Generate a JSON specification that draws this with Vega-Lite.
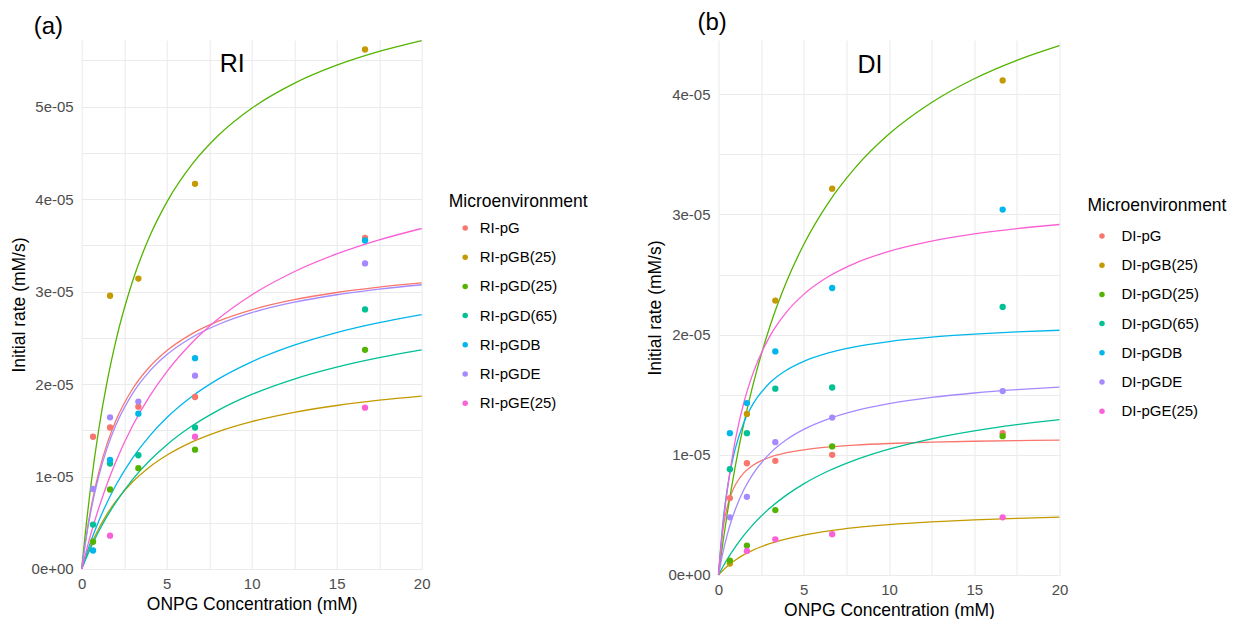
{
  "$schema": "https://vega.github.io/schema/vega-lite/v6.json",
  "background": "#ffffff",
  "padding": {"left": 9.7, "top": 11, "right": 0, "bottom": 0},
  "spacing": 57.8,
  "config": {
    "font": "Liberation Sans",
    "view": {"stroke": null},
    "axis": {
      "domain": false,
      "ticks": false,
      "grid": true,
      "gridColor": "#EBEBEB",
      "gridWidth": 1.1,
      "labelColor": "#4D4D4D",
      "labelFontSize": 15,
      "labelFlush": false,
      "labelOverlap": false,
      "titleFontSize": 17.5,
      "titleFontWeight": "normal",
      "titleColor": "#000000"
    },
    "axisX": {"labelPadding": 7.5, "titlePadding": 4},
    "axisY": {"labelPadding": 8.5, "titlePadding": 3},
    "legend": {
      "orient": "none",
      "padding": 0,
      "titleFontSize": 17.5,
      "titleFontWeight": "normal",
      "titleColor": "#000000",
      "labelFontSize": 15,
      "labelColor": "#000000",
      "symbolType": "circle",
      "symbolSize": 30,
      "rowPadding": 13.2,
      "titlePadding": 10
    },
    "title": {"fontSize": 24, "fontWeight": "normal", "anchor": "start", "color": "#000000", "frame": "group"}
  },
  "datasets": {
    "rl_points": [
      {"series": "RI-pG", "x": 0.667, "v": 1.43e-5},
      {"series": "RI-pG", "x": 1.667, "v": 1.53e-5},
      {"series": "RI-pG", "x": 3.333, "v": 1.755e-5},
      {"series": "RI-pG", "x": 6.667, "v": 1.86e-5},
      {"series": "RI-pG", "x": 16.667, "v": 3.58e-5},
      {"series": "RI-pGB(25)", "x": 1.667, "v": 2.955e-5},
      {"series": "RI-pGB(25)", "x": 3.333, "v": 3.14e-5},
      {"series": "RI-pGB(25)", "x": 6.667, "v": 4.165e-5},
      {"series": "RI-pGB(25)", "x": 16.667, "v": 5.617e-5},
      {"series": "RI-pGD(25)", "x": 0.667, "v": 0.295e-5},
      {"series": "RI-pGD(25)", "x": 1.667, "v": 0.86e-5},
      {"series": "RI-pGD(25)", "x": 3.333, "v": 1.09e-5},
      {"series": "RI-pGD(25)", "x": 6.667, "v": 1.29e-5},
      {"series": "RI-pGD(25)", "x": 16.667, "v": 2.37e-5},
      {"series": "RI-pGD(65)", "x": 0.667, "v": 0.48e-5},
      {"series": "RI-pGD(65)", "x": 1.667, "v": 1.14e-5},
      {"series": "RI-pGD(65)", "x": 3.333, "v": 1.23e-5},
      {"series": "RI-pGD(65)", "x": 6.667, "v": 1.53e-5},
      {"series": "RI-pGD(65)", "x": 16.667, "v": 2.807e-5},
      {"series": "RI-pGDB", "x": 0.667, "v": 0.2e-5},
      {"series": "RI-pGDB", "x": 1.667, "v": 1.18e-5},
      {"series": "RI-pGDB", "x": 3.333, "v": 1.68e-5},
      {"series": "RI-pGDB", "x": 6.667, "v": 2.28e-5},
      {"series": "RI-pGDB", "x": 16.667, "v": 3.552e-5},
      {"series": "RI-pGDE", "x": 0.667, "v": 0.865e-5},
      {"series": "RI-pGDE", "x": 1.667, "v": 1.64e-5},
      {"series": "RI-pGDE", "x": 3.333, "v": 1.81e-5},
      {"series": "RI-pGDE", "x": 6.667, "v": 2.09e-5},
      {"series": "RI-pGDE", "x": 16.667, "v": 3.304e-5},
      {"series": "RI-pGE(25)", "x": 1.667, "v": 0.36e-5},
      {"series": "RI-pGE(25)", "x": 6.667, "v": 1.43e-5},
      {"series": "RI-pGE(25)", "x": 16.667, "v": 1.744e-5}
    ],
    "rl_fits": [
      {"curve": "RI-pG", "x": 0, "v": 0},
      {"curve": "RI-pG", "x": 0.25, "v": 0.3369e-5},
      {"curve": "RI-pG", "x": 0.5, "v": 0.6139e-5},
      {"curve": "RI-pG", "x": 0.75, "v": 0.8456e-5},
      {"curve": "RI-pG", "x": 1, "v": 1.0423e-5},
      {"curve": "RI-pG", "x": 1.5, "v": 1.3583e-5},
      {"curve": "RI-pG", "x": 2, "v": 1.6009e-5},
      {"curve": "RI-pG", "x": 3, "v": 1.9492e-5},
      {"curve": "RI-pG", "x": 4, "v": 2.187e-5},
      {"curve": "RI-pG", "x": 5, "v": 2.3598e-5},
      {"curve": "RI-pG", "x": 6.5, "v": 2.5454e-5},
      {"curve": "RI-pG", "x": 8, "v": 2.677e-5},
      {"curve": "RI-pG", "x": 10, "v": 2.8026e-5},
      {"curve": "RI-pG", "x": 12.5, "v": 2.9119e-5},
      {"curve": "RI-pG", "x": 15, "v": 2.9896e-5},
      {"curve": "RI-pG", "x": 17.5, "v": 3.0477e-5},
      {"curve": "RI-pG", "x": 20, "v": 3.0928e-5},
      {"curve": "RI-pGB(25)", "x": 0, "v": 0},
      {"curve": "RI-pGB(25)", "x": 0.25, "v": 0.1271e-5},
      {"curve": "RI-pGB(25)", "x": 0.5, "v": 0.2407e-5},
      {"curve": "RI-pGB(25)", "x": 0.75, "v": 0.3429e-5},
      {"curve": "RI-pGB(25)", "x": 1, "v": 0.4352e-5},
      {"curve": "RI-pGB(25)", "x": 1.5, "v": 0.5955e-5},
      {"curve": "RI-pGB(25)", "x": 2, "v": 0.73e-5},
      {"curve": "RI-pGB(25)", "x": 3, "v": 0.9429e-5},
      {"curve": "RI-pGB(25)", "x": 4, "v": 1.1039e-5},
      {"curve": "RI-pGB(25)", "x": 5, "v": 1.2299e-5},
      {"curve": "RI-pGB(25)", "x": 6.5, "v": 1.3747e-5},
      {"curve": "RI-pGB(25)", "x": 8, "v": 1.4839e-5},
      {"curve": "RI-pGB(25)", "x": 10, "v": 1.5937e-5},
      {"curve": "RI-pGB(25)", "x": 12.5, "v": 1.6939e-5},
      {"curve": "RI-pGB(25)", "x": 15, "v": 1.768e-5},
      {"curve": "RI-pGB(25)", "x": 17.5, "v": 1.825e-5},
      {"curve": "RI-pGB(25)", "x": 20, "v": 1.8702e-5},
      {"curve": "RI-pGD(25)", "x": 0, "v": 0},
      {"curve": "RI-pGD(25)", "x": 0.25, "v": 0.4527e-5},
      {"curve": "RI-pGD(25)", "x": 0.5, "v": 0.8481e-5},
      {"curve": "RI-pGD(25)", "x": 0.75, "v": 1.1964e-5},
      {"curve": "RI-pGD(25)", "x": 1, "v": 1.5056e-5},
      {"curve": "RI-pGD(25)", "x": 1.5, "v": 2.0303e-5},
      {"curve": "RI-pGD(25)", "x": 2, "v": 2.4587e-5},
      {"curve": "RI-pGD(25)", "x": 3, "v": 3.1163e-5},
      {"curve": "RI-pGD(25)", "x": 4, "v": 3.5973e-5},
      {"curve": "RI-pGD(25)", "x": 5, "v": 3.9645e-5},
      {"curve": "RI-pGD(25)", "x": 6.5, "v": 4.3769e-5},
      {"curve": "RI-pGD(25)", "x": 8, "v": 4.6812e-5},
      {"curve": "RI-pGD(25)", "x": 10, "v": 4.9814e-5},
      {"curve": "RI-pGD(25)", "x": 12.5, "v": 5.2508e-5},
      {"curve": "RI-pGD(25)", "x": 15, "v": 5.4472e-5},
      {"curve": "RI-pGD(25)", "x": 17.5, "v": 5.5967e-5},
      {"curve": "RI-pGD(25)", "x": 20, "v": 5.7143e-5},
      {"curve": "RI-pGD(65)", "x": 0, "v": 0},
      {"curve": "RI-pGD(65)", "x": 0.25, "v": 0.112e-5},
      {"curve": "RI-pGD(65)", "x": 0.5, "v": 0.2163e-5},
      {"curve": "RI-pGD(65)", "x": 0.75, "v": 0.3138e-5},
      {"curve": "RI-pGD(65)", "x": 1, "v": 0.4051e-5},
      {"curve": "RI-pGD(65)", "x": 1.5, "v": 0.5713e-5},
      {"curve": "RI-pGD(65)", "x": 2, "v": 0.7186e-5},
      {"curve": "RI-pGD(65)", "x": 3, "v": 0.9685e-5},
      {"curve": "RI-pGD(65)", "x": 4, "v": 1.1724e-5},
      {"curve": "RI-pGD(65)", "x": 5, "v": 1.3418e-5},
      {"curve": "RI-pGD(65)", "x": 6.5, "v": 1.5483e-5},
      {"curve": "RI-pGD(65)", "x": 8, "v": 1.7131e-5},
      {"curve": "RI-pGD(65)", "x": 10, "v": 1.8872e-5},
      {"curve": "RI-pGD(65)", "x": 12.5, "v": 2.0543e-5},
      {"curve": "RI-pGD(65)", "x": 15, "v": 2.1831e-5},
      {"curve": "RI-pGD(65)", "x": 17.5, "v": 2.2854e-5},
      {"curve": "RI-pGD(65)", "x": 20, "v": 2.3687e-5},
      {"curve": "RI-pGDB", "x": 0, "v": 0},
      {"curve": "RI-pGDB", "x": 0.25, "v": 0.145e-5},
      {"curve": "RI-pGDB", "x": 0.5, "v": 0.2786e-5},
      {"curve": "RI-pGDB", "x": 0.75, "v": 0.4021e-5},
      {"curve": "RI-pGDB", "x": 1, "v": 0.5167e-5},
      {"curve": "RI-pGDB", "x": 1.5, "v": 0.7226e-5},
      {"curve": "RI-pGDB", "x": 2, "v": 0.9024e-5},
      {"curve": "RI-pGDB", "x": 3, "v": 1.2013e-5},
      {"curve": "RI-pGDB", "x": 4, "v": 1.4398e-5},
      {"curve": "RI-pGDB", "x": 5, "v": 1.6345e-5},
      {"curve": "RI-pGDB", "x": 6.5, "v": 1.8676e-5},
      {"curve": "RI-pGDB", "x": 8, "v": 2.0504e-5},
      {"curve": "RI-pGDB", "x": 10, "v": 2.2404e-5},
      {"curve": "RI-pGDB", "x": 12.5, "v": 2.4198e-5},
      {"curve": "RI-pGDB", "x": 15, "v": 2.5563e-5},
      {"curve": "RI-pGDB", "x": 17.5, "v": 2.6635e-5},
      {"curve": "RI-pGDB", "x": 20, "v": 2.7501e-5},
      {"curve": "RI-pGDE", "x": 0, "v": 0},
      {"curve": "RI-pGDE", "x": 0.25, "v": 0.3194e-5},
      {"curve": "RI-pGDE", "x": 0.5, "v": 0.5847e-5},
      {"curve": "RI-pGDE", "x": 0.75, "v": 0.8086e-5},
      {"curve": "RI-pGDE", "x": 1, "v": 1.0e-5},
      {"curve": "RI-pGDE", "x": 1.5, "v": 1.3101e-5},
      {"curve": "RI-pGDE", "x": 2, "v": 1.5506e-5},
      {"curve": "RI-pGDE", "x": 3, "v": 1.8991e-5},
      {"curve": "RI-pGDE", "x": 4, "v": 2.1395e-5},
      {"curve": "RI-pGDE", "x": 5, "v": 2.3154e-5},
      {"curve": "RI-pGDE", "x": 6.5, "v": 2.5056e-5},
      {"curve": "RI-pGDE", "x": 8, "v": 2.6411e-5},
      {"curve": "RI-pGDE", "x": 10, "v": 2.7711e-5},
      {"curve": "RI-pGDE", "x": 12.5, "v": 2.8846e-5},
      {"curve": "RI-pGDE", "x": 15, "v": 2.9656e-5},
      {"curve": "RI-pGDE", "x": 17.5, "v": 3.0263e-5},
      {"curve": "RI-pGDE", "x": 20, "v": 3.0735e-5},
      {"curve": "RI-pGE(25)", "x": 0, "v": 0},
      {"curve": "RI-pGE(25)", "x": 0.25, "v": 0.1827e-5},
      {"curve": "RI-pGE(25)", "x": 0.5, "v": 0.3522e-5},
      {"curve": "RI-pGE(25)", "x": 0.75, "v": 0.5098e-5},
      {"curve": "RI-pGE(25)", "x": 1, "v": 0.6568e-5},
      {"curve": "RI-pGE(25)", "x": 1.5, "v": 0.9228e-5},
      {"curve": "RI-pGE(25)", "x": 2, "v": 1.1571e-5},
      {"curve": "RI-pGE(25)", "x": 3, "v": 1.5511e-5},
      {"curve": "RI-pGE(25)", "x": 4, "v": 1.8692e-5},
      {"curve": "RI-pGE(25)", "x": 5, "v": 2.1316e-5},
      {"curve": "RI-pGE(25)", "x": 6.5, "v": 2.4488e-5},
      {"curve": "RI-pGE(25)", "x": 8, "v": 2.7e-5},
      {"curve": "RI-pGE(25)", "x": 10, "v": 2.9634e-5},
      {"curve": "RI-pGE(25)", "x": 12.5, "v": 3.2143e-5},
      {"curve": "RI-pGE(25)", "x": 15, "v": 3.4065e-5},
      {"curve": "RI-pGE(25)", "x": 17.5, "v": 3.5586e-5},
      {"curve": "RI-pGE(25)", "x": 20, "v": 3.6818e-5}
    ],
    "dl_points": [
      {"series": "DI-pG", "x": 0.667, "v": 0.64e-5},
      {"series": "DI-pG", "x": 1.667, "v": 0.93e-5},
      {"series": "DI-pG", "x": 3.333, "v": 0.95e-5},
      {"series": "DI-pG", "x": 6.667, "v": 1.0e-5},
      {"series": "DI-pG", "x": 16.667, "v": 1.18e-5},
      {"series": "DI-pGB(25)", "x": 0.667, "v": 0.095e-5},
      {"series": "DI-pGB(25)", "x": 1.667, "v": 1.34e-5},
      {"series": "DI-pGB(25)", "x": 3.333, "v": 2.283e-5},
      {"series": "DI-pGB(25)", "x": 6.667, "v": 3.214e-5},
      {"series": "DI-pGB(25)", "x": 16.667, "v": 4.115e-5},
      {"series": "DI-pGD(25)", "x": 0.667, "v": 0.12e-5},
      {"series": "DI-pGD(25)", "x": 1.667, "v": 0.245e-5},
      {"series": "DI-pGD(25)", "x": 3.333, "v": 0.54e-5},
      {"series": "DI-pGD(25)", "x": 6.667, "v": 1.07e-5},
      {"series": "DI-pGD(25)", "x": 16.667, "v": 1.155e-5},
      {"series": "DI-pGD(65)", "x": 0.667, "v": 0.88e-5},
      {"series": "DI-pGD(65)", "x": 1.667, "v": 1.18e-5},
      {"series": "DI-pGD(65)", "x": 3.333, "v": 1.55e-5},
      {"series": "DI-pGD(65)", "x": 6.667, "v": 1.56e-5},
      {"series": "DI-pGD(65)", "x": 16.667, "v": 2.23e-5},
      {"series": "DI-pGDB", "x": 0.667, "v": 1.18e-5},
      {"series": "DI-pGDB", "x": 1.667, "v": 1.43e-5},
      {"series": "DI-pGDB", "x": 3.333, "v": 1.86e-5},
      {"series": "DI-pGDB", "x": 6.667, "v": 2.388e-5},
      {"series": "DI-pGDB", "x": 16.667, "v": 3.04e-5},
      {"series": "DI-pGDE", "x": 0.667, "v": 0.48e-5},
      {"series": "DI-pGDE", "x": 1.667, "v": 0.65e-5},
      {"series": "DI-pGDE", "x": 3.333, "v": 1.105e-5},
      {"series": "DI-pGDE", "x": 6.667, "v": 1.31e-5},
      {"series": "DI-pGDE", "x": 16.667, "v": 1.53e-5},
      {"series": "DI-pGE(25)", "x": 1.667, "v": 0.2e-5},
      {"series": "DI-pGE(25)", "x": 3.333, "v": 0.297e-5},
      {"series": "DI-pGE(25)", "x": 6.667, "v": 0.34e-5},
      {"series": "DI-pGE(25)", "x": 16.667, "v": 0.48e-5}
    ],
    "dl_fits": [
      {"curve": "DI-pG", "x": 0, "v": 0},
      {"curve": "DI-pG", "x": 0.25, "v": 0.3692e-5},
      {"curve": "DI-pG", "x": 0.5, "v": 0.5592e-5},
      {"curve": "DI-pG", "x": 0.75, "v": 0.675e-5},
      {"curve": "DI-pG", "x": 1, "v": 0.7529e-5},
      {"curve": "DI-pG", "x": 1.5, "v": 0.8512e-5},
      {"curve": "DI-pG", "x": 2, "v": 0.9107e-5},
      {"curve": "DI-pG", "x": 3, "v": 0.979e-5},
      {"curve": "DI-pG", "x": 4, "v": 1.0172e-5},
      {"curve": "DI-pG", "x": 5, "v": 1.0416e-5},
      {"curve": "DI-pG", "x": 6.5, "v": 1.0652e-5},
      {"curve": "DI-pG", "x": 8, "v": 1.0804e-5},
      {"curve": "DI-pG", "x": 10, "v": 1.094e-5},
      {"curve": "DI-pG", "x": 12.5, "v": 1.1051e-5},
      {"curve": "DI-pG", "x": 15, "v": 1.1127e-5},
      {"curve": "DI-pG", "x": 17.5, "v": 1.1181e-5},
      {"curve": "DI-pG", "x": 20, "v": 1.1223e-5},
      {"curve": "DI-pGB(25)", "x": 0, "v": 0},
      {"curve": "DI-pGB(25)", "x": 0.25, "v": 0.0375e-5},
      {"curve": "DI-pGB(25)", "x": 0.5, "v": 0.0703e-5},
      {"curve": "DI-pGB(25)", "x": 0.75, "v": 0.0994e-5},
      {"curve": "DI-pGB(25)", "x": 1, "v": 0.1252e-5},
      {"curve": "DI-pGB(25)", "x": 1.5, "v": 0.1691e-5},
      {"curve": "DI-pGB(25)", "x": 2, "v": 0.2051e-5},
      {"curve": "DI-pGB(25)", "x": 3, "v": 0.2605e-5},
      {"curve": "DI-pGB(25)", "x": 4, "v": 0.3012e-5},
      {"curve": "DI-pGB(25)", "x": 5, "v": 0.3324e-5},
      {"curve": "DI-pGB(25)", "x": 6.5, "v": 0.3674e-5},
      {"curve": "DI-pGB(25)", "x": 8, "v": 0.3934e-5},
      {"curve": "DI-pGB(25)", "x": 10, "v": 0.4191e-5},
      {"curve": "DI-pGB(25)", "x": 12.5, "v": 0.4421e-5},
      {"curve": "DI-pGB(25)", "x": 15, "v": 0.459e-5},
      {"curve": "DI-pGB(25)", "x": 17.5, "v": 0.4718e-5},
      {"curve": "DI-pGB(25)", "x": 20, "v": 0.4819e-5},
      {"curve": "DI-pGD(25)", "x": 0, "v": 0},
      {"curve": "DI-pGD(25)", "x": 0.25, "v": 0.2614e-5},
      {"curve": "DI-pGD(25)", "x": 0.5, "v": 0.4991e-5},
      {"curve": "DI-pGD(25)", "x": 0.75, "v": 0.7162e-5},
      {"curve": "DI-pGD(25)", "x": 1, "v": 0.9153e-5},
      {"curve": "DI-pGD(25)", "x": 1.5, "v": 1.2676e-5},
      {"curve": "DI-pGD(25)", "x": 2, "v": 1.5698e-5},
      {"curve": "DI-pGD(25)", "x": 3, "v": 2.0611e-5},
      {"curve": "DI-pGD(25)", "x": 4, "v": 2.4435e-5},
      {"curve": "DI-pGD(25)", "x": 5, "v": 2.7495e-5},
      {"curve": "DI-pGD(25)", "x": 6.5, "v": 3.109e-5},
      {"curve": "DI-pGD(25)", "x": 8, "v": 3.3856e-5},
      {"curve": "DI-pGD(25)", "x": 10, "v": 3.6685e-5},
      {"curve": "DI-pGD(25)", "x": 12.5, "v": 3.9312e-5},
      {"curve": "DI-pGD(25)", "x": 15, "v": 4.1284e-5},
      {"curve": "DI-pGD(25)", "x": 17.5, "v": 4.2817e-5},
      {"curve": "DI-pGD(25)", "x": 20, "v": 4.4045e-5},
      {"curve": "DI-pGD(65)", "x": 0, "v": 0},
      {"curve": "DI-pGD(65)", "x": 0.25, "v": 0.0661e-5},
      {"curve": "DI-pGD(65)", "x": 0.5, "v": 0.1273e-5},
      {"curve": "DI-pGD(65)", "x": 0.75, "v": 0.184e-5},
      {"curve": "DI-pGD(65)", "x": 1, "v": 0.2367e-5},
      {"curve": "DI-pGD(65)", "x": 1.5, "v": 0.3318e-5},
      {"curve": "DI-pGD(65)", "x": 2, "v": 0.4152e-5},
      {"curve": "DI-pGD(65)", "x": 3, "v": 0.5547e-5},
      {"curve": "DI-pGD(65)", "x": 4, "v": 0.6667e-5},
      {"curve": "DI-pGD(65)", "x": 5, "v": 0.7585e-5},
      {"curve": "DI-pGD(65)", "x": 6.5, "v": 0.8691e-5},
      {"curve": "DI-pGD(65)", "x": 8, "v": 0.9562e-5},
      {"curve": "DI-pGD(65)", "x": 10, "v": 1.0471e-5},
      {"curve": "DI-pGD(65)", "x": 12.5, "v": 1.1333e-5},
      {"curve": "DI-pGD(65)", "x": 15, "v": 1.1991e-5},
      {"curve": "DI-pGD(65)", "x": 17.5, "v": 1.2511e-5},
      {"curve": "DI-pGD(65)", "x": 20, "v": 1.293e-5},
      {"curve": "DI-pGDB", "x": 0, "v": 0},
      {"curve": "DI-pGDB", "x": 0.25, "v": 0.4213e-5},
      {"curve": "DI-pGDB", "x": 0.5, "v": 0.7039e-5},
      {"curve": "DI-pGDB", "x": 0.75, "v": 0.9068e-5},
      {"curve": "DI-pGDB", "x": 1, "v": 1.0594e-5},
      {"curve": "DI-pGDB", "x": 1.5, "v": 1.2738e-5},
      {"curve": "DI-pGDB", "x": 2, "v": 1.4172e-5},
      {"curve": "DI-pGDB", "x": 3, "v": 1.597e-5},
      {"curve": "DI-pGDB", "x": 4, "v": 1.7052e-5},
      {"curve": "DI-pGDB", "x": 5, "v": 1.7774e-5},
      {"curve": "DI-pGDB", "x": 6.5, "v": 1.8497e-5},
      {"curve": "DI-pGDB", "x": 8, "v": 1.898e-5},
      {"curve": "DI-pGDB", "x": 10, "v": 1.9419e-5},
      {"curve": "DI-pGDB", "x": 12.5, "v": 1.9786e-5},
      {"curve": "DI-pGDB", "x": 15, "v": 2.0037e-5},
      {"curve": "DI-pGDB", "x": 17.5, "v": 2.0221e-5},
      {"curve": "DI-pGDB", "x": 20, "v": 2.0362e-5},
      {"curve": "DI-pGDE", "x": 0, "v": 0},
      {"curve": "DI-pGDE", "x": 0.25, "v": 0.181e-5},
      {"curve": "DI-pGDE", "x": 0.5, "v": 0.3277e-5},
      {"curve": "DI-pGDE", "x": 0.75, "v": 0.449e-5},
      {"curve": "DI-pGDE", "x": 1, "v": 0.551e-5},
      {"curve": "DI-pGDE", "x": 1.5, "v": 0.7129e-5},
      {"curve": "DI-pGDE", "x": 2, "v": 0.8357e-5},
      {"curve": "DI-pGDE", "x": 3, "v": 1.0097e-5},
      {"curve": "DI-pGDE", "x": 4, "v": 1.127e-5},
      {"curve": "DI-pGDE", "x": 5, "v": 1.2115e-5},
      {"curve": "DI-pGDE", "x": 6.5, "v": 1.3015e-5},
      {"curve": "DI-pGDE", "x": 8, "v": 1.3649e-5},
      {"curve": "DI-pGDE", "x": 10, "v": 1.425e-5},
      {"curve": "DI-pGDE", "x": 12.5, "v": 1.4771e-5},
      {"curve": "DI-pGDE", "x": 15, "v": 1.514e-5},
      {"curve": "DI-pGDE", "x": 17.5, "v": 1.5415e-5},
      {"curve": "DI-pGDE", "x": 20, "v": 1.5628e-5},
      {"curve": "DI-pGE(25)", "x": 0, "v": 0},
      {"curve": "DI-pGE(25)", "x": 0.25, "v": 0.3859e-5},
      {"curve": "DI-pGE(25)", "x": 0.5, "v": 0.6883e-5},
      {"curve": "DI-pGE(25)", "x": 0.75, "v": 0.9316e-5},
      {"curve": "DI-pGE(25)", "x": 1, "v": 1.1317e-5},
      {"curve": "DI-pGE(25)", "x": 1.5, "v": 1.4411e-5},
      {"curve": "DI-pGE(25)", "x": 2, "v": 1.6693e-5},
      {"curve": "DI-pGE(25)", "x": 3, "v": 1.9834e-5},
      {"curve": "DI-pGE(25)", "x": 4, "v": 2.1893e-5},
      {"curve": "DI-pGE(25)", "x": 5, "v": 2.3348e-5},
      {"curve": "DI-pGE(25)", "x": 6.5, "v": 2.4874e-5},
      {"curve": "DI-pGE(25)", "x": 8, "v": 2.5933e-5},
      {"curve": "DI-pGE(25)", "x": 10, "v": 2.6926e-5},
      {"curve": "DI-pGE(25)", "x": 12.5, "v": 2.7778e-5},
      {"curve": "DI-pGE(25)", "x": 15, "v": 2.8376e-5},
      {"curve": "DI-pGE(25)", "x": 17.5, "v": 2.8819e-5},
      {"curve": "DI-pGE(25)", "x": 20, "v": 2.9161e-5}
    ]
  },
  "hconcat": [
    {
      "title": {"text": "(a)", "dx": -48, "offset": -1},
      "width": 340,
      "height": 529,
      "encoding": {
        "x": {
          "field": "x", "type": "quantitative",
          "scale": {"domain": [0, 20], "nice": false},
          "axis": {
            "title": "ONPG Concentration (mM)",
            "values": [0, 2.5, 5, 7.5, 10, 12.5, 15, 17.5, 20],
            "labelExpr": "datum.value % 5 === 0 ? datum.label : ''"
          }
        },
        "y": {
          "field": "v", "type": "quantitative",
          "scale": {"domain": [0, 5.72e-5], "nice": false},
          "axis": {
            "title": "Initial rate (mM/s)",
            "values": [0, 0.5e-5, 1e-5, 1.5e-5, 2e-5, 2.5e-5, 3e-5, 3.5e-5, 4e-5, 4.5e-5, 5e-5, 5.5e-5],
            "labelExpr": "round(datum.value * 2e5) % 2 === 0 ? (datum.value === 0 ? '0e+00' : replace(format(datum.value, '.0e'), 'e-', 'e-0')) : ''"
          }
        }
      },
      "layer": [
        {
          "data": {"name": "rl_fits"},
          "mark": {"type": "line", "strokeWidth": 1.3, "interpolate": "monotone"},
          "encoding": {
            "color": {
              "field": "curve", "type": "nominal",
              "scale": {
                "domain": ["RI-pG", "RI-pGB(25)", "RI-pGD(25)", "RI-pGD(65)", "RI-pGDB", "RI-pGDE", "RI-pGE(25)"],
                "range": ["#F8766D", "#C49A00", "#53B400", "#00C094", "#00B6EB", "#A58AFF", "#FB61D7"]
              },
              "legend": null
            }
          }
        },
        {
          "data": {"name": "rl_points"},
          "mark": {"type": "circle", "size": 40, "opacity": 1},
          "encoding": {
            "color": {
              "field": "series", "type": "nominal",
              "scale": {
                "domain": ["RI-pG", "RI-pGB(25)", "RI-pGD(25)", "RI-pGD(65)", "RI-pGDB", "RI-pGDE", "RI-pGE(25)"],
                "range": ["#F8766D", "#C49A00", "#53B400", "#00C094", "#00B6EB", "#A58AFF", "#FB61D7"]
              },
              "legend": {"title": "Microenvironment", "legendX": 367, "legendY": 153, "labelOffset": 7, "symbolOffset": 9}
            }
          }
        },
        {
          "data": {"values": [{"panel": "RI", "x": 8.85, "v": 5.46e-5}]},
          "mark": {"type": "text", "fontSize": 25, "align": "center", "baseline": "middle", "color": "#000000"},
          "encoding": {"text": {"field": "panel", "type": "nominal"}}
        }
      ],
      "resolve": {"scale": {"color": "independent"}}
    },
    {
      "title": {"text": "(b)", "dx": -21, "offset": 5},
      "width": 341,
      "height": 535,
      "encoding": {
        "x": {
          "field": "x", "type": "quantitative",
          "scale": {"domain": [0, 20], "nice": false},
          "axis": {
            "title": "ONPG Concentration (mM)",
            "values": [0, 2.5, 5, 7.5, 10, 12.5, 15, 17.5, 20],
            "labelExpr": "datum.value % 5 === 0 ? datum.label : ''"
          }
        },
        "y": {
          "field": "v", "type": "quantitative",
          "scale": {"domain": [0, 4.451e-5], "nice": false},
          "axis": {
            "title": "Initial rate (mM/s)",
            "values": [0, 0.5e-5, 1e-5, 1.5e-5, 2e-5, 2.5e-5, 3e-5, 3.5e-5, 4e-5],
            "labelExpr": "round(datum.value * 2e5) % 2 === 0 ? (datum.value === 0 ? '0e+00' : replace(format(datum.value, '.0e'), 'e-', 'e-0')) : ''"
          }
        }
      },
      "layer": [
        {
          "data": {"name": "dl_fits"},
          "mark": {"type": "line", "strokeWidth": 1.3, "interpolate": "monotone"},
          "encoding": {
            "color": {
              "field": "curve", "type": "nominal",
              "scale": {
                "domain": ["DI-pG", "DI-pGB(25)", "DI-pGD(25)", "DI-pGD(65)", "DI-pGDB", "DI-pGDE", "DI-pGE(25)"],
                "range": ["#F8766D", "#C49A00", "#53B400", "#00C094", "#00B6EB", "#A58AFF", "#FB61D7"]
              },
              "legend": null
            }
          }
        },
        {
          "data": {"name": "dl_points"},
          "mark": {"type": "circle", "size": 40, "opacity": 1},
          "encoding": {
            "color": {
              "field": "series", "type": "nominal",
              "scale": {
                "domain": ["DI-pG", "DI-pGB(25)", "DI-pGD(25)", "DI-pGD(65)", "DI-pGDB", "DI-pGDE", "DI-pGE(25)"],
                "range": ["#F8766D", "#C49A00", "#53B400", "#00C094", "#00B6EB", "#A58AFF", "#FB61D7"]
              },
              "legend": {"title": "Microenvironment", "legendX": 369, "legendY": 157, "labelOffset": 12, "symbolOffset": 7, "titlePadding": 14}
            }
          }
        },
        {
          "data": {"values": [{"panel": "DI", "x": 8.89, "v": 4.245e-5}]},
          "mark": {"type": "text", "fontSize": 25, "align": "center", "baseline": "middle", "color": "#000000"},
          "encoding": {"text": {"field": "panel", "type": "nominal"}}
        }
      ],
      "resolve": {"scale": {"color": "independent"}}
    }
  ],
  "resolve": {"scale": {"color": "independent"}, "legend": {"color": "independent"}}
}
